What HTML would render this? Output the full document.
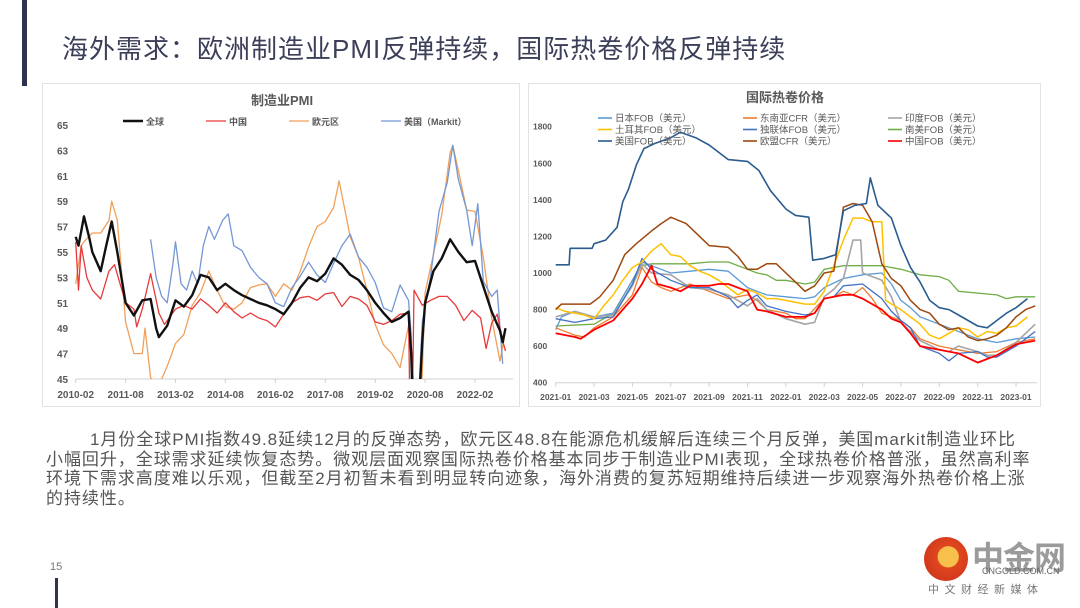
<!DOCTYPE html>
<html><head><meta charset="utf-8">
<style>
html,body{margin:0;padding:0;background:#fff;}
body{width:1080px;height:608px;position:relative;overflow:hidden;font-family:"Liberation Sans","Noto Sans CJK SC",sans-serif;}
.abs{position:absolute;}
#title{left:62px;top:29px;font-size:26px;color:#3b3f58;white-space:nowrap;letter-spacing:1px;}
#para{left:46px;top:430px;font-size:17px;line-height:19.5px;color:#555;white-space:nowrap;letter-spacing:0.95px;}
svg text{font-family:"Liberation Sans","Noto Sans CJK SC",sans-serif;}
</style></head>
<body>
<div class="abs" style="left:22px;top:0;width:5px;height:86px;background:#2e3350;"></div>
<div class="abs" id="title">海外需求：欧洲制造业PMI反弹持续，国际热卷价格反弹持续</div>

<div class="abs" style="left:42px;top:83px;width:478px;height:324px;border:1px solid #e3e3e3;box-sizing:border-box;"></div>
<div class="abs" style="left:528px;top:83px;width:513px;height:324px;border:1px solid #e3e3e3;box-sizing:border-box;"></div>

<svg class="abs" id="chart" style="left:0;top:0" width="1080" height="608"></svg>

<div class="abs" id="para"><span style="padding-left:44px"></span>1月份全球PMI指数49.8延续12月的反弹态势，欧元区48.8在能源危机缓解后连续三个月反弹，美国markit制造业环比<br>小幅回升，全球需求延续恢复态势。微观层面观察国际热卷价格基本同步于制造业PMI表现，全球热卷价格普涨，虽然高利率<br>环境下需求高度难以乐观，但截至2月初暂未看到明显转向迹象，海外消费的复苏短期维持后续进一步观察海外热卷价格上涨<br>的持续性。</div>

<div class="abs" style="left:50px;top:561px;font-size:11px;color:#777;">15</div>
<div class="abs" style="left:55px;top:578px;width:3px;height:30px;background:#2e3350;"></div>

<div class="abs" style="left:920px;top:535px;width:150px;height:70px;">
  <div class="abs" style="left:4px;top:2px;width:44px;height:44px;border-radius:50%;background:radial-gradient(circle at 55% 45%,#f6c04a 0 30%,#e0461e 32%,#c8301a 100%);"></div>
  <div class="abs" style="left:52px;top:-2px;font-size:32px;font-weight:bold;color:#9b9b9b;letter-spacing:-1px;">中金网</div>
  <div class="abs" style="left:62px;top:31px;font-size:9px;color:#666;">CNGOLD.COM.CN</div>
  <div class="abs" style="left:8px;top:46px;font-size:11px;color:#777;letter-spacing:5.5px;">中文财经新媒体</div>
</div>

<script>
// ---------- Left chart data (month index from 2010-02) ----------
const pmiXTicks = ["2010-02","2011-08","2013-02","2014-08","2016-02","2017-08","2019-02","2020-08","2022-02"];
const pmiYTicks = [45,47,49,51,53,55,57,59,61,63,65];
const globalM = [0,1,3,5,6,9,11,13,15,18,21,24,27,29,30,33,36,39,42,45,48,51,54,57,60,63,66,69,72,75,78,81,84,87,90,93,96,99,102,105,108,111,114,117,120,121,122,123,125,126,129,132,135,138,141,144,147,150,153,154,155];
const globalV = [56.2,55.5,57.8,56,55,53.5,55.5,57.4,55,51,50,51.2,51.3,49,48.3,49.2,51.2,50.7,51.6,53.2,53,52,52.5,52,51.6,51.3,51,50.8,50.5,50.1,51,52.2,53,52.7,53.3,54.5,54,53.2,52.8,52,51,50.2,49.5,49.8,50.3,47,40,39.6,48,51,53.5,54.5,56,55,54.2,54.3,52.3,50.3,48.8,47.9,49.0];
const chinaM = [0,1,2,4,6,9,12,14,16,18,21,22,24,27,30,32,36,39,42,45,48,51,54,57,60,63,66,69,72,75,78,81,84,87,90,93,96,99,102,105,108,111,114,117,120,121,122,125,128,131,134,137,140,143,146,148,150,152,154,155];
const chinaV = [55.8,52,55.5,53,52,51.3,53.5,54,52.5,51,50.5,49.1,50.5,53.3,50.2,49.3,50.5,50.8,50.5,51.3,50.8,50.2,51,50.3,49.8,50.2,49.8,49.6,49.1,50.1,51,51.4,51.5,51.2,51.7,51.8,50.7,51.5,51.3,50.8,49.5,49.3,49.6,50.1,50.2,35.7,52,50.8,51.2,51.5,51.5,50.8,49.6,50.4,49.8,47.4,49.4,50.1,48,47.2];
const euroM = [0,2,3,6,9,12,13,15,18,21,24,25,27,30,33,36,39,42,45,48,51,54,57,60,63,66,69,72,75,78,81,84,87,90,93,95,99,102,105,108,111,114,117,120,122,123,126,129,132,135,136,138,141,144,147,150,153,155];
const euroV = [52.5,55.5,55.8,56.5,56.5,57.5,59,57.5,49.5,47,47,49,45.1,44.5,46,47.8,48.5,50.8,51.8,53.5,52,50.7,50.5,51,52.2,52.4,52.5,51.5,52.5,52,53.5,55.4,57,57.4,58.5,60.6,56.2,54.6,52,49.3,47.7,47,45.9,49.2,44.5,33.4,51.8,54.8,57.9,62.8,63.4,61.4,58.3,58.2,54.6,49.8,46.4,48.8];
const usM = [27,29,31,33,35,36,38,40,42,44,46,48,50,53,55,57,60,63,66,69,72,75,78,81,84,87,90,93,96,99,102,105,108,111,114,117,120,121,122,125,128,131,134,136,138,141,143,145,147,150,152,154];
const usV = [56,53,51.5,51,54,55.8,52.5,52,53.5,52.5,55.5,57,56,57.5,58,55.5,55.1,53.8,53,52.5,51,50.7,52.2,53.1,54.2,53.2,52.6,54.1,55.5,56.4,54.6,53.8,52.6,50.6,50.3,52.4,51.2,48.5,36.1,49.5,53.1,58.2,60.5,63.4,60.7,58.3,55.5,58.8,52.7,51.5,52,46.2];

// ---------- Right chart data (month index from 2021-01) ----------
const hrcXTicks = ["2021-01","2021-03","2021-05","2021-07","2021-09","2021-11","2022-01","2022-03","2022-05","2022-07","2022-09","2022-11","2023-01"];
const hrcYTicks = [400,600,800,1000,1200,1400,1600,1800];
const usFobM = [0,0.7,0.75,1.9,2,2.6,3.2,3.5,3.8,4.2,4.6,5.2,6,6.5,7.3,8,9,10,10.6,11.2,12,12.5,13.2,13.4,14,14.6,15,15.6,16.2,16.4,16.8,17.5,18,18.5,19,19.5,20,20.5,21,21.5,22,22.5,23,23.5,24,24.6];
const usFobV = [1045,1045,1135,1135,1160,1180,1250,1390,1460,1590,1680,1710,1740,1770,1740,1700,1620,1610,1560,1450,1350,1315,1305,1070,1080,1100,1340,1370,1380,1520,1370,1300,1150,1030,950,850,810,800,770,740,710,700,740,780,810,860];
const euM = [0,0.3,1.8,2.3,3,3.6,4.2,5,5.5,6,6.8,7.5,8,9,9.5,10,10.5,11,11.5,12,12.5,13,13.5,14,14.5,15,15.5,16,16.5,17,17.5,18,18.5,19,19.5,20,20.5,21,21.5,22,22.5,23,23.5,24,24.5,25];
const euV = [800,830,830,870,960,1100,1160,1230,1270,1305,1270,1200,1150,1140,1090,1020,1020,1050,1050,1000,950,900,930,1000,1010,1360,1380,1370,1280,1050,970,930,850,800,780,720,690,700,650,630,640,660,700,760,800,820];
const turkeyM = [0,0.5,1.5,2,2.5,3,3.5,4,4.5,5,5.5,6,6.5,7,7.5,8,8.5,9,9.5,10,10.5,11,11.5,12,13,13.5,14,14.5,15,15.5,16,16.5,17,17.2,18,18.5,19,19.5,20,20.5,21,21.5,22,22.5,23,23.5,24,24.6];
const turkeyV = [810,790,770,750,820,880,960,1030,1060,1120,1160,1100,1090,1040,1010,990,960,920,880,910,890,860,860,850,830,830,900,1040,1180,1300,1300,1280,1280,850,800,760,720,660,640,670,700,690,650,680,670,700,710,760];
const saM = [0,2,3,4,4.5,5,6,7,8,9,10,10.5,11,11.5,12,13,13.5,14,15,16,17,18,19,20,20.5,21,22,23,23.5,24,25];
const saV = [710,720,780,960,1040,1050,1050,1050,1060,1060,1020,1000,990,960,960,940,950,1020,1040,1040,1040,1020,990,980,960,900,890,880,860,870,870];
const japanM = [0,0.3,1,2,3,4,4.5,5,6,7,8,9,10,10.5,11,12,13,13.5,14,15,16,17,17.5,18,18.5,19,20,20.5,21,22,23,24,25];
const japanV = [690,760,790,760,780,960,1060,1040,1000,1010,1020,1010,920,900,880,870,860,870,920,970,990,1000,940,850,810,760,720,700,680,640,620,640,650];
const seaM = [0,1,1.5,2,3,4,4.5,5,5.5,6,7,8,9,10,10.5,11,12,12.5,13,14,14.5,15,15.5,16,16.5,17,18,18.5,19,20,20.5,21,22,23,24,25];
const seaV = [700,660,650,700,760,880,1030,950,920,900,940,900,860,880,850,800,780,750,750,860,870,900,880,920,860,780,740,700,640,600,590,580,560,570,620,640];
const indiaM = [0,1,2,3,4,4.5,5,6,7,8,9,10,10.5,11,12,13,13.5,14,14.5,15,15.5,15.9,16,16.5,17,17.5,18,18.5,19,20,20.5,21,22,22.5,23,24,25];
const indiaV = [760,790,760,770,930,1050,1000,990,920,910,880,820,860,800,750,720,730,870,910,970,1180,1180,1000,980,960,870,730,680,630,580,570,600,570,550,550,620,720];
const cisM = [0,1,2,3,4,4.5,5,6,7,8,9,9.5,10,10.5,11,12,13,13.5,14,14.5,15,16,16.5,17,17.5,18,18.5,19,20,20.5,21,22,22.5,23,24,25];
const cisV = [750,730,750,760,940,1080,1020,960,920,920,870,810,850,880,820,790,770,780,860,870,930,940,900,860,790,740,700,600,560,520,560,570,540,540,600,680];
const chinaFobM = [0,1,1.3,2,3,4,4.5,5,5.3,6,6.5,7,8,8.5,9,10,10.5,11,12,13,13.5,14,15,15.5,16,16.5,17,17.5,18,18.5,19,20,20.5,21,22,22.5,23,24,25];
const chinaFobV = [670,650,640,690,740,860,940,1040,940,920,900,930,930,940,940,900,800,790,760,760,780,860,880,880,860,830,800,750,730,670,600,580,570,560,510,530,550,610,630];

const svg = document.getElementById('chart');
const NS = 'http://www.w3.org/2000/svg';
function mk(tag, attrs, parent) {
  const e = document.createElementNS(NS, tag);
  for (const k in attrs) e.setAttribute(k, attrs[k]);
  (parent || svg).appendChild(e);
  return e;
}
function txt(x, y, s, size, color, anchor, weight, parent) {
  const t = mk('text', {x: x, y: y, 'font-size': size, fill: color, 'text-anchor': anchor || 'start', 'font-weight': weight || 'normal'}, parent);
  t.textContent = s;
  return t;
}

// ----- Left chart axes -----
const L = {x0: 75.7, pxPerM: 2.773, y0: 379, y1: 125, vmin: 45, vmax: 65, right: 513};
const lx = m => L.x0 + m * L.pxPerM;
const ly = v => L.y0 - (v - L.vmin) / (L.vmax - L.vmin) * (L.y0 - L.y1);
const gL = mk('g', {});


const lt = txt(282, 105, '制造业PMI', 13, '#595959', 'middle', 'bold', gL);


const lax = mk('line', {x1: L.x0, x2: L.right, y1: L.y0, y2: L.y0, stroke: '#d0d0d0', 'stroke-width': 1}, gL);


pmiYTicks.forEach(v => {
  const t = txt(57, ly(v) + 4, String(v), 10, '#595959', 'start', 'bold', gL);
  
  
});
pmiXTicks.forEach((s, i) => {
  const x = lx(i * 18);
  mk('line', {x1: x, x2: x, y1: L.y0, y2: L.y0 + 4, stroke: '#d0d0d0'}, gL);
  const t = txt(x, 398, s, 10, '#595959', 'middle', 'bold', gL);
  
  
});
const clipL = mk('clipPath', {id: 'clipL'}, mk('defs', {}));
mk('rect', {x: 60, y: L.y1 - 10, width: 460, height: L.y0 - L.y1 + 10}, clipL);
function lineL(ms, vs, color, w, name) {
  const d = ms.map((m, i) => (i ? 'L' : 'M') + lx(m).toFixed(1) + ',' + ly(vs[i]).toFixed(1)).join('');
  const p = mk('path', {d: d, fill: 'none', stroke: color, 'stroke-width': w, 'stroke-linejoin': 'round', 'clip-path': 'url(#clipL)'}, gL);
  
  
}
lineL(euroM, euroV, '#f0a05a', 1.3, 'eurozone-pmi-line');
lineL(usM, usV, '#7597d4', 1.3, 'us-markit-pmi-line');
lineL(chinaM, chinaV, '#e8393a', 1.3, 'china-pmi-line');
lineL(globalM, globalV, '#111', 2.4, 'global-pmi-line');
[['全球', '#111', 123, 2.6], ['中国', '#e8393a', 206, 1.3], ['欧元区', '#f0a05a', 289, 1.3], ['美国（Markit）', '#7597d4', 381, 1.3]].forEach(e => {
  const g = mk('g', {}, gL);
  
  
  mk('line', {x1: e[2], x2: e[2] + 20, y1: 121, y2: 121, stroke: e[1], 'stroke-width': e[3]}, g);
  txt(e[2] + 23, 125, e[0], 9, '#595959', 'start', 'bold', g);
});

// ----- Right chart axes -----
const R = {x0: 555.7, pxPerM: 19.18, y0: 382.7, y1: 126.7, vmin: 400, vmax: 1800, right: 1037};
const rx = m => R.x0 + m * R.pxPerM;
const ry = v => R.y0 - (v - R.vmin) / (R.vmax - R.vmin) * (R.y0 - R.y1);
const gR = mk('g', {});


const rt = txt(785, 102, '国际热卷价格', 13, '#595959', 'middle', 'bold', gR);


const rax = mk('line', {x1: R.x0, x2: R.right, y1: R.y0, y2: R.y0, stroke: '#d0d0d0'}, gR);


hrcYTicks.forEach(v => {
  const t = txt(533, ry(v) + 3, String(v), 8.5, '#595959', 'start', 'bold', gR);
  
  
});
hrcXTicks.forEach((s, i) => {
  const x = rx(i * 2);
  mk('line', {x1: x, x2: x, y1: R.y0, y2: R.y0 + 4, stroke: '#d0d0d0'}, gR);
  const t = txt(x, 400, s, 8.5, '#595959', 'middle', 'bold', gR);
  
  
});
function lineR(ms, vs, color, w, name) {
  const d = ms.map((m, i) => (i ? 'L' : 'M') + rx(m).toFixed(1) + ',' + ry(vs[i]).toFixed(1)).join('');
  const p = mk('path', {d: d, fill: 'none', stroke: color, 'stroke-width': w, 'stroke-linejoin': 'round'}, gR);
  
  
}
lineR(saM, saV, '#70ad47', 1.3, 'south-america-fob-line');
lineR(japanM, japanV, '#5b9bd5', 1.3, 'japan-fob-line');
lineR(seaM, seaV, '#ed7d31', 1.3, 'southeast-asia-cfr-line');
lineR(indiaM, indiaV, '#a5a5a5', 1.6, 'india-fob-line');
lineR(cisM, cisV, '#4472c4', 1.3, 'cis-fob-line');
lineR(turkeyM, turkeyV, '#ffc000', 1.5, 'turkey-fob-line');
lineR(euM, euV, '#9e480e', 1.5, 'eu-cfr-line');
lineR(usFobM, usFobV, '#2a5c8f', 1.6, 'us-fob-line');
lineR(chinaFobM, chinaFobV, '#ff0000', 1.8, 'china-fob-line');
[['日本FOB（美元）', '#5b9bd5', 598, 118], ['东南亚CFR（美元）', '#ed7d31', 743, 118], ['印度FOB（美元）', '#a5a5a5', 888, 118],
 ['土耳其FOB（美元）', '#ffc000', 598, 129.5], ['独联体FOB（美元）', '#4472c4', 743, 129.5], ['南美FOB（美元）', '#70ad47', 888, 129.5],
 ['美国FOB（美元）', '#2a5c8f', 598, 141], ['欧盟CFR（美元）', '#9e480e', 743, 141], ['中国FOB（美元）', '#ff0000', 888, 141]].forEach(e => {
  const g = mk('g', {}, gR);
  
  
  mk('line', {x1: e[2], x2: e[2] + 14, y1: e[3], y2: e[3], stroke: e[1], 'stroke-width': 1.6}, g);
  txt(e[2] + 17, e[3] + 3.5, e[0], 9.5, '#595959', 'start', 'normal', g);
});
</script>
</body></html>
